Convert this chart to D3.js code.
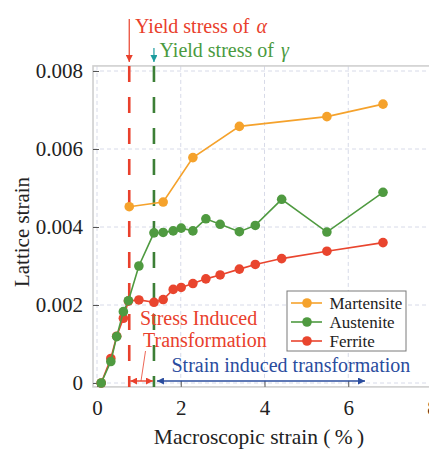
<!DOCTYPE html>
<html>
<head>
<meta charset="utf-8">
<script src="https://cdn.jsdelivr.net/npm/d3@7"></script>
<style>
  html, body { margin: 0; padding: 0; background: #fff; }
  svg { display: block; }
  svg text { font-family: "Liberation Serif", "Times New Roman", Times, serif !important; }
</style>
</head>
<body>
<svg id="chart" width="429" height="449" font-family="Liberation Serif, serif"></svg>
<script>
// Macroscopic strain (%) at which each phase was measured
const strainX = [0.1, 0.33, 0.47, 0.63, 0.75, 1.0, 1.36, 1.58, 1.82, 2.01, 2.29, 2.6, 2.94, 3.4, 3.78, 4.41, 5.49, 6.83];
const austenite = [0.0000, 0.00055, 0.00119, 0.00183, 0.00211, 0.0030, 0.00385, 0.00386, 0.0039, 0.00397, 0.0039, 0.00421, 0.00407, 0.00388, 0.00404, 0.00471, 0.00387, 0.00489];
const ferrite = [0.0000, 0.00063, 0.0012, 0.00166, 0.0021, 0.00213, 0.00207, 0.00214, 0.0024, 0.00245, 0.00255, 0.00267, 0.00277, 0.00292, 0.00304, 0.00319, 0.00338, 0.0036];
const martensiteX = [0.77, 1.58, 2.29, 3.40, 5.49, 6.83];
const martensite = [0.00452, 0.00464, 0.00578, 0.00658, 0.00683, 0.00715];

// Yield points of the two phases (strain, %)
const yieldAlpha = 0.77;
const yieldGamma = 1.36;

const xTicks = [0, 2, 4, 6, 8];
const yTicks = [0, 0.002, 0.004, 0.006, 0.008];
const yTickLabels = ["0", "0.002", "0.004", "0.006", "0.008"];

const SERIF = "Liberation Serif, Times New Roman, serif";
const colors = { Martensite: "#F5A22C", Austenite: "#4F9A40", Ferrite: "#E9452E" };
const series = [
  { name: "Martensite", xs: martensiteX, ys: martensite },
  { name: "Austenite", xs: strainX, ys: austenite },
  { name: "Ferrite", xs: strainX, ys: ferrite }
];
// drawing order: martensite, ferrite, austenite on top
const drawOrder = ["Martensite", "Ferrite", "Austenite"];

const svg = d3.select("#chart");

const x = d3.scaleLinear().domain([0, 8]).range([97, 432]);
const y = d3.scaleLinear().domain([0, 0.008]).range([383, 71]);

const frame = { left: x(-0.095), right: x(8.3), top: y(0.00813), bottom: y(-0.0001) };

// grid
const grid = svg.append("g").attr("stroke", "#cdd0e2").attr("stroke-width", 0.8).attr("stroke-dasharray", "4,3");
grid.selectAll("line.gx").data(xTicks).join("line")
  .attr("x1", d => x(d)).attr("x2", d => x(d))
  .attr("y1", frame.top).attr("y2", frame.bottom);
grid.selectAll("line.gy").data(yTicks).join("line")
  .attr("x1", frame.left).attr("x2", frame.right)
  .attr("y1", d => y(d)).attr("y2", d => y(d));

// frame
svg.append("rect")
  .attr("x", frame.left).attr("y", frame.top)
  .attr("width", frame.right - frame.left).attr("height", frame.bottom - frame.top)
  .attr("fill", "none").attr("stroke", "#cfcfcf").attr("stroke-width", 1.6);

// axes with inward ticks
const yAxis = d3.axisLeft(y).tickValues(yTicks).tickSize(-6).tickPadding(10)
  .tickFormat((d, i) => yTickLabels[i]);
const gy = svg.append("g").attr("transform", `translate(${frame.left},0)`).call(yAxis);
const xAxis = d3.axisBottom(x).tickValues(xTicks).tickSize(-6).tickPadding(13).tickFormat(d3.format("d"));
const gx = svg.append("g").attr("transform", `translate(0,${frame.bottom})`).call(xAxis);
[gx, gy].forEach(g => {
  g.attr("font-family", SERIF).attr("font-size", 21);
  g.select(".domain").remove();
  g.selectAll(".tick line").attr("stroke", "#555").attr("stroke-width", 1);
  g.selectAll(".tick text").attr("fill", "#222").attr("font-size", 21)
    .attr("font-family", SERIF);
});
gx.selectAll(".tick text").attr("dy", "0.71em");

// axis titles
svg.append("text")
  .attr("x", 259).attr("y", 444).attr("text-anchor", "middle")
  .attr("font-family", SERIF).attr("font-size", 21.5).attr("fill", "#222")
  .text("Macroscopic strain (\u2009%\u2009)");
svg.append("text")
  .attr("transform", "translate(29,232) rotate(-90)").attr("text-anchor", "middle")
  .attr("font-family", SERIF).attr("font-size", 21).attr("fill", "#222")
  .text("Lattice strain");

// yield lines
svg.append("line")
  .attr("x1", x(yieldAlpha)).attr("x2", x(yieldAlpha))
  .attr("y1", frame.top).attr("y2", frame.bottom)
  .attr("stroke", "#E9402C").attr("stroke-width", 2.6).attr("stroke-dasharray", "16,15");
svg.append("line")
  .attr("x1", x(yieldGamma)).attr("x2", x(yieldGamma))
  .attr("y1", frame.top).attr("y2", frame.bottom)
  .attr("stroke", "#3C7F36").attr("stroke-width", 2.6).attr("stroke-dasharray", "16,15");

// arrowhead markers
const defs = svg.append("defs");
function arrowMarker(id, color, orient) {
  defs.append("marker")
    .attr("id", id).attr("viewBox", "0 0 10 10")
    .attr("refX", 10).attr("refY", 5)
    .attr("markerWidth", 7).attr("markerHeight", 7)
    .attr("markerUnits", "userSpaceOnUse")
    .attr("orient", orient)
    .append("path").attr("d", "M0,0 L10,5 L0,10 Z").attr("fill", color);
}
arrowMarker("headRed", "#E9402C", "auto");
arrowMarker("headTeal", "#1C9C9E", "auto");
arrowMarker("headRedBoth", "#E9402C", "auto-start-reverse");
arrowMarker("headBlue", "#2A4C9E", "auto-start-reverse");

// yield annotations at the top
svg.append("line")
  .attr("x1", x(yieldAlpha)).attr("x2", x(yieldAlpha))
  .attr("y1", 19).attr("y2", 62)
  .attr("stroke", "#E9402C").attr("stroke-width", 1.2).attr("marker-end", "url(#headRed)");
svg.append("line")
  .attr("x1", x(yieldGamma)).attr("x2", x(yieldGamma))
  .attr("y1", 48).attr("y2", 62)
  .attr("stroke", "#1C9C9E").attr("stroke-width", 1.2).attr("marker-end", "url(#headTeal)");

const tA = svg.append("text").attr("x", 135).attr("y", 33).attr("font-family", SERIF)
  .attr("font-size", 20).attr("fill", "#E9402C");
tA.append("tspan").text("Yield stress of ");
tA.append("tspan").attr("dx", 2).attr("font-style", "italic").text("\u03B1");
const tG = svg.append("text").attr("x", 159.5).attr("y", 57).attr("font-family", SERIF)
  .attr("font-size", 20).attr("fill", "#4A9A40");
tG.append("tspan").text("Yield stress of ");
tG.append("tspan").attr("dx", 2).attr("font-style", "italic").text("\u03B3");

// series lines and markers
const line = d3.line().x(d => x(d[0])).y(d => y(d[1]));
drawOrder.forEach(name => {
  const s = series.find(d => d.name === name);
  const pts = s.xs.map((v, i) => [v, s.ys[i]]);
  svg.append("path").datum(pts)
    .attr("d", line).attr("fill", "none")
    .attr("stroke", colors[name]).attr("stroke-width", 1.6);
  svg.append("g").selectAll("circle").data(pts).join("circle")
    .attr("cx", d => x(d[0])).attr("cy", d => y(d[1])).attr("r", 4.8)
    .attr("fill", colors[name]);
});

// transformation regime annotations
const arrowY = 381;
svg.append("line")
  .attr("x1", x(yieldAlpha) + 1).attr("x2", x(yieldGamma) - 1)
  .attr("y1", arrowY).attr("y2", arrowY)
  .attr("stroke", "#E9402C").attr("stroke-width", 1.4)
  .attr("marker-start", "url(#headRedBoth)").attr("marker-end", "url(#headRedBoth)");
svg.append("line")
  .attr("x1", 141).attr("x2", 145.5)
  .attr("y1", arrowY).attr("y2", 351)
  .attr("stroke", "#E9402C").attr("stroke-width", 0.8);
svg.append("line")
  .attr("x1", x(yieldGamma) + 3).attr("x2", x(6.4))
  .attr("y1", arrowY).attr("y2", arrowY)
  .attr("stroke", "#2A4C9E").attr("stroke-width", 1.6)
  .attr("marker-start", "url(#headBlue)").attr("marker-end", "url(#headBlue)");

svg.append("text").attr("x", 140).attr("y", 325).attr("font-family", SERIF)
  .attr("font-size", 20).attr("fill", "#E9402C").text("Stress Induced");
svg.append("text").attr("x", 143).attr("y", 347).attr("font-family", SERIF)
  .attr("font-size", 20).attr("fill", "#E9402C").text("Transformation");
svg.append("text").attr("x", 171.5).attr("y", 372).attr("font-family", SERIF)
  .attr("font-size", 20).attr("fill", "#2A4C9E").text("Strain induced transformation");

// legend
const legend = svg.append("g");
legend.append("rect")
  .attr("x", 287).attr("y", 291).attr("width", 119).attr("height", 60)
  .attr("fill", "#fff").attr("stroke", "#7a7a7a").attr("stroke-width", 1);
const legendY = [303, 322, 341];
series.forEach((s, i) => {
  const ly = legendY[i];
  legend.append("line").attr("x1", 291).attr("x2", 322).attr("y1", ly).attr("y2", ly)
    .attr("stroke", colors[s.name]).attr("stroke-width", 1.6);
  legend.append("circle").attr("cx", 307).attr("cy", ly).attr("r", 4.8).attr("fill", colors[s.name]);
  legend.append("text").attr("x", 329.5).attr("y", ly + 6).attr("font-family", SERIF)
    .attr("font-size", 17).attr("fill", "#222").text(s.name);
});
</script>
</body>
</html>
